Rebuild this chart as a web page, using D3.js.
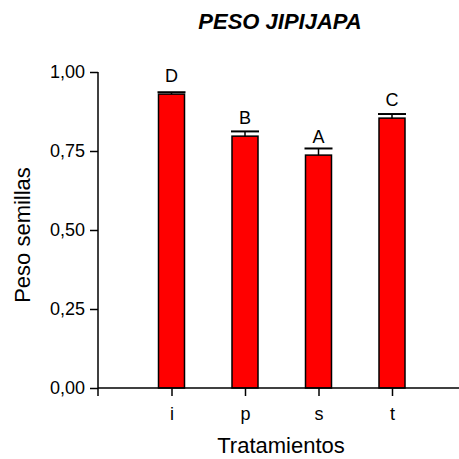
<!DOCTYPE html>
<html><head><meta charset="utf-8">
<script src="https://cdn.jsdelivr.net/npm/d3@7"></script>
<style>body{margin:0;background:#fff}svg{display:block}</style>
</head><body>
<svg id="c" width="459" height="459"></svg>
<script>
const categories = ["i", "p", "s", "t"];
const means = [0.930, 0.797, 0.737, 0.854];
const errors = [0.006, 0.015, 0.021, 0.013];
const letters = ["D", "B", "A", "C"];
const yTicks = [0, 0.25, 0.5, 0.75, 1.0];
const yTickLabels = ["0,00", "0,25", "0,50", "0,75", "1,00"];

const svg = d3.select("#c");
const font = "'Liberation Sans', Arial, sans-serif";
const x0 = 98, yBase = 388, yTop = 72;
const x = d3.scalePoint().domain(categories).range([x0, 465.5]).padding(1);
const y = d3.scaleLinear().domain([0, 1]).range([yBase, yTop]);
const bw = 26;

// bars
svg.selectAll("rect.bar").data(categories).join("rect")
  .attr("x", d => x(d) - bw / 2)
  .attr("y", (d, i) => y(means[i]))
  .attr("width", bw)
  .attr("height", (d, i) => yBase - y(means[i]))
  .attr("fill", "#ff0000").attr("stroke", "#000").attr("stroke-width", 1.5);

// error bars
categories.forEach((d, i) => {
  const cx = x(d), top = y(means[i] + errors[i]);
  svg.append("line").attr("x1", cx).attr("x2", cx).attr("y1", y(means[i])).attr("y2", top)
    .attr("stroke", "#000").attr("stroke-width", 1.5);
  svg.append("line").attr("x1", cx - bw / 2 - 1).attr("x2", cx + bw / 2 + 1).attr("y1", top).attr("y2", top)
    .attr("stroke", "#000").attr("stroke-width", 2);
  svg.append("text").attr("x", cx).attr("y", y(means[i]) - 12).attr("text-anchor", "middle")
    .attr("font-family", font).attr("font-size", 18).attr("fill", "#000").text(letters[i]);
});

// y axis
const yAxis = d3.axisLeft(y).tickValues(yTicks).tickFormat((d, i) => yTickLabels[i]).tickSize(8).tickPadding(5);
const gy = svg.append("g").attr("transform", `translate(${x0},0)`).call(yAxis);
gy.select(".domain").remove();
gy.selectAll(".tick line").attr("stroke", "#000").attr("stroke-width", 1.5);
gy.selectAll(".tick text").attr("font-family", font).attr("font-size", 18).attr("fill", "#000");
svg.append("line").attr("x1", x0).attr("x2", x0).attr("y1", yTop).attr("y2", yBase + 8)
  .attr("stroke", "#000").attr("stroke-width", 1.5);

// x axis
const xAxis = d3.axisBottom(x).tickSize(8).tickPadding(11);
const gx = svg.append("g").attr("transform", `translate(0,${yBase})`).call(xAxis);
gx.select(".domain").remove();
gx.selectAll(".tick line").attr("stroke", "#000").attr("stroke-width", 1.5);
gx.selectAll(".tick text").attr("font-family", font).attr("font-size", 18).attr("fill", "#000");
svg.append("line").attr("x1", x0).attr("x2", 459).attr("y1", yBase).attr("y2", yBase)
  .attr("stroke", "#000").attr("stroke-width", 1.5);

// titles
svg.append("text").attr("x", 280).attr("y", 29).attr("text-anchor", "middle")
  .attr("font-family", font).attr("font-size", 22).attr("font-weight", "bold").attr("font-style", "italic")
  .attr("fill", "#000").text("PESO JIPIJAPA");
svg.append("text").attr("x", 281).attr("y", 453).attr("text-anchor", "middle")
  .attr("font-family", font).attr("font-size", 22).attr("fill", "#000").text("Tratamientos");
svg.append("text").attr("transform", "translate(30,235) rotate(-90)").attr("text-anchor", "middle")
  .attr("font-family", font).attr("font-size", 22).attr("fill", "#000").text("Peso semillas");
</script>
</body></html>
